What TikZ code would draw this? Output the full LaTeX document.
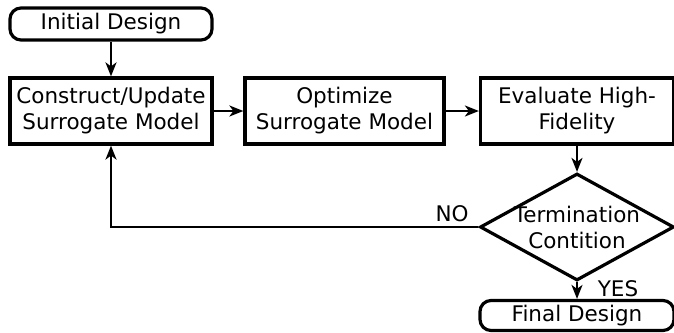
\documentclass[tikz,border=0pt]{standalone}
\usepackage{fontspec}
\setmainfont{DejaVu Sans}
\usepackage{tikz}
\usetikzlibrary{shapes, arrows.meta, positioning}
\tikzset{
  stepbox/.style={draw, line width=3.2pt, minimum width=200pt, minimum height=66pt, align=center, inner sep=0pt, font=\fontsize{21.5pt}{26pt}\selectfont},
  termbox/.style={stepbox, rounded corners=11pt, minimum height=32pt},
  decision/.style={draw, diamond, line width=3.2pt, minimum width=194pt, minimum height=107pt, inner sep=0pt},
  flow/.style={line width=2pt, -{Stealth[length=14pt,width=11pt,inset=4pt]}},
  lbl/.style={font=\fontsize{21.5pt}{26pt}\selectfont, inner sep=0pt}
}

\begin{document}
\begin{tikzpicture}[x=1pt,y=-1pt]
        \useasboundingbox (0,0) rectangle (674,332);
        \node[termbox, minimum width=202pt] (init) at (111,24) {Initial Design};
        \node[stepbox, minimum width=202pt] (build) at (111,111) {Construct/Update\\Surrogate Model};
        \node[stepbox, minimum width=199pt] (opt) at (344.5,111) {Optimize\\Surrogate Model};
        \node[stepbox, minimum width=193pt] (hifi) at (577,111) {Evaluate High-\\Fidelity};
        \node[decision] (term) at (577,227) {};
        \node[lbl, align=center] (termtext) at (term.center) {Termination\\Contition};
        \node[termbox, minimum width=194pt, minimum height=30pt] (final) at (577,315.5) {Final Design};
        \node[lbl] (no) at (452,214) {NO};
        \node[lbl] (yes) at (618,289) {YES};
        \draw[flow] (init) -- (build);
        \draw[flow] (build) -- (opt);
        \draw[flow] (opt) -- (hifi);
        \draw[flow] (hifi) -- (term);
        \draw[flow] (term) -- (final);
        \draw[flow] (term.west) -| (build.south);
    \end{tikzpicture}
\end{document}
